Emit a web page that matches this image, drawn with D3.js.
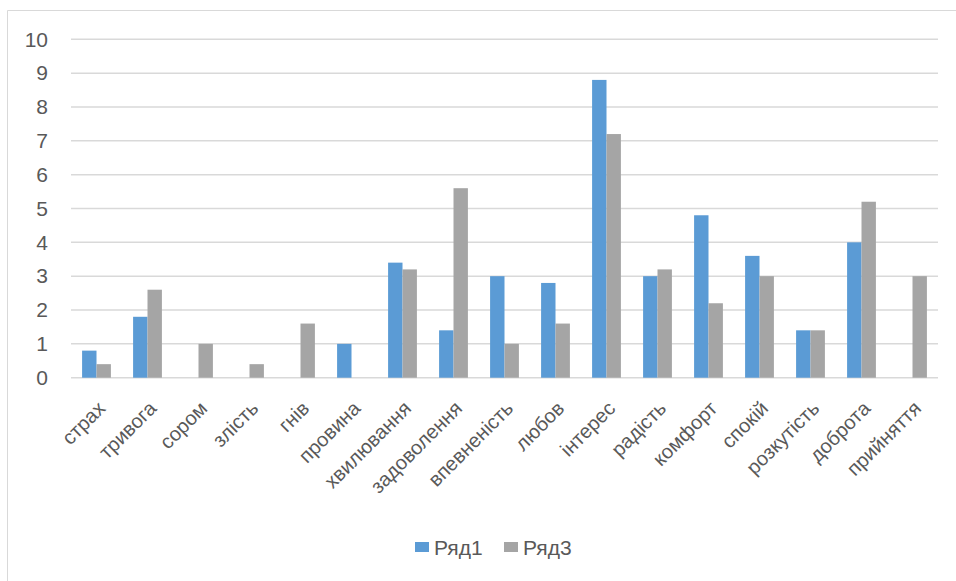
<!DOCTYPE html>
<html>
<head>
<meta charset="utf-8">
<script src="https://cdn.jsdelivr.net/npm/d3@7/dist/d3.min.js"></script>
<style>
  html, body { margin: 0; padding: 0; background: #fff; }
  svg { display: block; }
  text { font-family: "Liberation Sans", Arial, sans-serif; fill: #595959; }
</style>
</head>
<body>
<svg id="chart" width="956" height="581"></svg>
<script>
// Emotion categories along the x axis
const categories = ["страх", "тривога", "сором", "злість", "гнів", "провина",
  "хвилювання", "задоволення", "впевненість", "любов", "інтерес", "радість",
  "комфорт", "спокій", "розкутість", "доброта", "прийняття"];

// Series values
const row1 = [0.8, 1.8, 0, 0, 0, 1, 3.4, 1.4, 3, 2.8, 8.8, 3, 4.8, 3.6, 1.4, 4, 0];
const row3 = [0.4, 2.6, 1, 0.4, 1.6, 0, 3.2, 5.6, 1, 1.6, 7.2, 3.2, 2.2, 3, 1.4, 5.2, 3];

const seriesNames = ["Ряд1", "Ряд3"];
const seriesColors = ["#5b9bd5", "#a5a5a5"];
const yTicks = [0, 1, 2, 3, 4, 5, 6, 7, 8, 9, 10];

const svg = d3.select("#chart");

// Chart frame (left and top edges)
svg.append("path")
  .attr("d", "M7.5,581 V10.5 H956")
  .attr("fill", "none")
  .attr("stroke", "#d9d9d9")
  .attr("stroke-width", 1);

const plot = { left: 71, right: 938, top: 39.3, bottom: 377.7 };

const x = d3.scaleBand()
  .domain(categories)
  .range([plot.left, plot.right])
  .paddingInner(0.435)
  .paddingOuter(0.2175);

const xs = d3.scaleBand()
  .domain(seriesNames)
  .range([0, x.bandwidth()]);

const y = d3.scaleLinear()
  .domain([0, 10])
  .range([plot.bottom, plot.top]);

// Horizontal gridlines
svg.append("g")
  .selectAll("line")
  .data(yTicks)
  .join("line")
  .attr("x1", plot.left)
  .attr("x2", plot.right)
  .attr("y1", d => y(d))
  .attr("y2", d => y(d))
  .attr("stroke", "#d9d9d9")
  .attr("stroke-width", 1.5);

// Y axis tick labels
const yAxis = d3.axisLeft(y).tickValues(yTicks).tickSize(0).tickPadding(0);
const yg = svg.append("g")
  .attr("transform", `translate(48,0)`)
  .call(yAxis);
yg.select(".domain").remove();
yg.selectAll("text")
  .attr("font-size", 21)
  .attr("font-family", "Liberation Sans, Arial, sans-serif")
  .attr("fill", "#595959");

// Bars
const data = [row1, row3];
const groups = svg.append("g")
  .selectAll("g")
  .data(data)
  .join("g")
  .attr("fill", (d, i) => seriesColors[i]);

groups.each(function(vals, si) {
  d3.select(this).selectAll("rect")
    .data(vals.map((v, ci) => ({ v, c: categories[ci] })).filter(d => d.v > 0))
    .join("rect")
    .attr("x", d => x(d.c) + xs(seriesNames[si]))
    .attr("width", xs.bandwidth())
    .attr("y", d => y(d.v))
    .attr("height", d => y(0) - y(d.v));
});

// Category labels, rotated
const xAxis = d3.axisBottom(x).tickSize(0).tickPadding(0);
const xg = svg.append("g")
  .attr("transform", `translate(0,${plot.bottom})`)
  .call(xAxis);
xg.select(".domain").remove();
xg.selectAll(".tick text")
  .attr("font-size", 20)
  .attr("font-family", "Liberation Sans, Arial, sans-serif")
  .attr("fill", "#595959")
  .attr("text-anchor", "end")
  .attr("dy", 0)
  .attr("y", 0)
  .attr("transform", "translate(10,32) rotate(-45)");

// Legend
const legend = svg.append("g").attr("transform", "translate(415,542)");
const legendX = [0, 89];
seriesNames.forEach((name, i) => {
  const g = legend.append("g").attr("transform", `translate(${legendX[i]},0)`);
  g.append("rect").attr("width", 14).attr("height", 10).attr("fill", seriesColors[i]);
  g.append("text").attr("x", 19).attr("y", 13)
    .attr("font-size", 21)
    .text(name);
});
</script>
</body>
</html>
